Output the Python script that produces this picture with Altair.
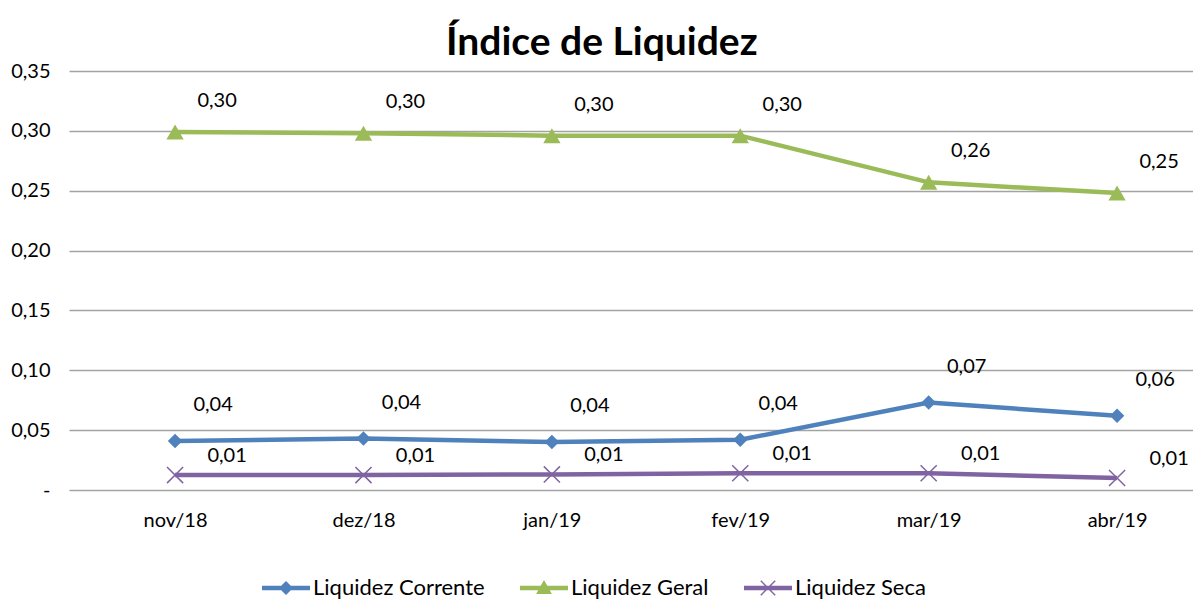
import altair as alt
import pandas as pd

meses = ["nov/18", "dez/18", "jan/19", "fev/19", "mar/19", "abr/19"]
series = ["Liquidez Corrente", "Liquidez Geral", "Liquidez Seca"]
corrente = [0.041, 0.043, 0.040, 0.042, 0.073, 0.062]
geral = [0.299, 0.298, 0.296, 0.296, 0.257, 0.248]
seca = [0.0125, 0.0125, 0.013, 0.014, 0.014, 0.010]
y_ticks = [0, 0.05, 0.10, 0.15, 0.20, 0.25, 0.30, 0.35]

cores = ["#4F81BD", "#9BBB59", "#8064A2"]
FONT = "Lato"

rows = []
for s, vals in zip(series, [corrente, geral, seca]):
    for i, (m, v) in enumerate(zip(meses, vals)):
        rows.append({"idx": i, "mes": m, "serie": s, "valor": v})
df = pd.DataFrame(rows)

meses_js = "[" + ",".join("'" + m + "'" for m in meses) + "]"

x = alt.X("idx:Q",
          scale=alt.Scale(domain=[-0.563, 5.403], nice=False, zero=False),
          axis=alt.Axis(title=None, domain=False, ticks=False, labelAngle=0,
                        values=list(range(len(meses))),
                        labelExpr=meses_js + "[datum.value]",
                        labelFontSize=20, labelFont=FONT, labelColor="black",
                        labelPadding=20, grid=False))
y = alt.Y("valor:Q",
          scale=alt.Scale(domain=[0, 0.35], nice=False, zero=True),
          axis=alt.Axis(title=None, values=y_ticks, domain=False, ticks=False,
                        labelExpr="datum.value == 0 ? '-\u00a0\u00a0' : replace(format(datum.value, '.2f'), '.', ',')",
                        labelFontSize=20, labelFont=FONT, labelColor="black",
                        labelPadding=19, grid=True, gridColor="#a3a3a3", gridWidth=1.5))

base = alt.Chart(df)

marker_specs = {
    "Liquidez Corrente": dict(shape="diamond", size=210, filled=True, opacity=1),
    "Liquidez Geral": dict(shape="triangle-up", size=300, filled=True, opacity=1),
    "Liquidez Seca": dict(shape="M-1,-1L1,1M-1,1L1,-1", size=260, filled=False, strokeWidth=1.5, opacity=1),
}
label_offsets = {
    "Liquidez Corrente": (38, -36),
    "Liquidez Geral": (42, -31),
    "Liquidez Seca": (52, -19),
}

layers = []
for s, c in zip(series, cores):
    sub = base.transform_filter(alt.datum.serie == s)
    layers.append(sub.mark_line(strokeWidth=4.5, color=c).encode(x=x, y=y))
    layers.append(sub.mark_point(color=c, **marker_specs[s]).encode(x=x, y=y))
for s in series:
    dx, dy = label_offsets[s]
    layers.append(
        base.transform_filter(alt.datum.serie == s)
        .transform_calculate(rotulo="replace(format(datum.valor, '.2f'), '.', ',')")
        .mark_text(dx=dx, dy=dy, fontSize=20, font=FONT, color="black")
        .encode(x=x, y=y, text="rotulo:N")
    )

legend_paths = [
    "M-2,-0.18L-0.4,-0.18L0,-0.58L0.4,-0.18L2,-0.18L2,0.18L0.4,0.18L0,0.58L-0.4,0.18L-2,0.18Z",
    "M-2,-0.18L2,-0.18L2,0.18L-2,0.18Z M0,-0.66L0.66,0.5L-0.66,0.5Z",
    "M-2,-0.18L2,-0.18L2,0.18L-2,0.18Z M-0.558,-0.642L0.642,0.558L0.558,0.642L-0.642,-0.558Z M-0.642,0.558L0.558,-0.642L0.642,-0.558L-0.558,0.642Z",
]
leg = alt.Legend(title=None, orient="none", direction="horizontal",
                 legendX=205, legendY=505,
                 symbolSize=576, symbolOpacity=1, symbolStrokeWidth=0,
                 labelFontSize=22, labelFont=FONT, labelColor="black", labelLimit=400,
                 labelOffset=15, columnPadding=35)
legend_layer = base.transform_filter("false").mark_point(filled=True).encode(
    x=x, y=y,
    color=alt.Color("serie:N", scale=alt.Scale(domain=series, range=cores), legend=leg),
    shape=alt.Shape("serie:N", scale=alt.Scale(domain=series, range=legend_paths), legend=leg),
)
layers.append(legend_layer)

chart = alt.layer(*layers).properties(
    width=1124, height=419,
    title=alt.TitleParams("Índice de Liquidez", fontSize=39, font=FONT, fontWeight="bold",
                          anchor="middle", frame="bounds", color="black", offset=-2),
    padding={"left": 2, "top": 16, "right": 0, "bottom": 0},
).configure_view(stroke=None)

chart.save("out.html", embed_options={"renderer": "svg", "actions": False})
